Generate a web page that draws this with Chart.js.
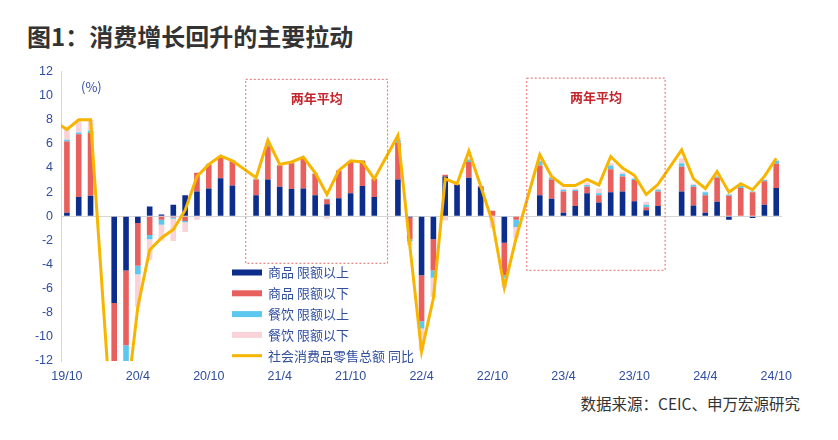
<!DOCTYPE html>
<html>
<head>
<meta charset="utf-8">
<script src="https://cdn.jsdelivr.net/npm/chart.js@4.4.1/dist/chart.umd.min.js"></script>
<style>
  body { margin: 0; width: 838px; height: 440px; background: #fff; position: relative; overflow: hidden;
         font-family: "Noto Sans CJK SC", "Noto Sans", sans-serif; }
  #title { position: absolute; left: 27px; top: 18px; font-size: 24px; font-weight: bold; color: #333; white-space: nowrap; }
  #source { position: absolute; right: 38px; top: 392px; font-size: 15.5px; color: #333; white-space: nowrap; }
  #wrap { position: absolute; left: 0; top: 56px; width: 800px; height: 332px; }
</style>
</head>
<body>
<div id="title">图1：消费增长回升的主要拉动</div>
<div id="wrap"><canvas id="myChart"></canvas></div>
<div id="source">数据来源：CEIC、申万宏源研究</div>
<script>
// months 19/9 .. 24/10 (19/9 only feeds the line entering from the left edge);
// January is merged into February (null)
const labels = ['19/9','19/10','19/11','19/12',
  '20/1','20/2','20/3','20/4','20/5','20/6','20/7','20/8','20/9','20/10','20/11','20/12',
  '21/1','21/2','21/3','21/4','21/5','21/6','21/7','21/8','21/9','21/10','21/11','21/12',
  '22/1','22/2','22/3','22/4','22/5','22/6','22/7','22/8','22/9','22/10','22/11','22/12',
  '23/1','23/2','23/3','23/4','23/5','23/6','23/7','23/8','23/9','23/10','23/11','23/12',
  '24/1','24/2','24/3','24/4','24/5','24/6','24/7','24/8','24/9','24/10'];
const firstShown = '19/10';

const goodsAbove = [null,0.3,1.6,1.7,
  null,-7.2,-4.5,-0.55,0.8,0.15,0.95,1.75,2.05,2.3,3.15,2.55,
  null,1.75,3.05,2.45,2.25,2.3,1.75,1.0,1.5,1.9,2.5,1.6,
  null,3.05,-0.1,-4.9,-1.9,3.3,2.6,3.2,2.4,-0.05,-2.2,0.0,
  null,1.75,1.45,0.3,0.85,1.9,1.15,2.0,2.05,1.25,0.5,0.85,
  null,2.05,0.9,0.3,1.2,-0.3,0.0,-0.15,0.95,2.35];
const goodsBelow = [null,5.9,5.2,5.2,
  null,-11.5,-6.2,-3.55,-1.55,-0.3,-0.1,-0.4,1.55,2.0,1.75,2.05,
  null,1.3,2.75,1.75,2.15,2.45,1.75,0.4,2.3,2.6,2.1,1.5,
  null,3.05,-1.8,-3.8,-2.6,0.15,0.05,1.3,0.1,0.45,-2.7,-0.3,
  null,2.45,1.6,1.75,1.25,0.55,0.6,1.9,1.25,1.75,0.25,1.2,
  null,2.05,1.55,1.45,2.0,1.7,2.35,2.0,1.95,2.0];
const cateringAbove = [null,0.15,0.15,0.2,
  null,-0.6,-1.3,-0.7,-0.35,-0.4,-0.1,-0.1,0.0,0.05,0.1,0.05,
  null,0.05,0.15,0.05,0.05,0.05,0.05,0.05,0.0,0.05,0.05,0.0,
  null,0.2,-0.2,-0.6,-0.6,0.0,0.0,0.2,0.0,0.0,-0.2,-0.6,
  null,0.35,0.15,0.15,0.1,0.15,0.15,0.3,0.2,0.1,0.2,0.15,
  null,0.3,0.15,0.25,0.1,0.1,0.15,0.05,0.1,0.25];
const cateringBelow = [null,0.85,1.05,0.9,
  null,-1.2,-3.8,-2.7,-1.7,-1.3,-1.85,-0.8,-0.3,-0.1,0.0,0.0,
  null,-0.05,0.1,0.05,0.05,0.05,0.05,-0.2,-0.05,0.0,-0.05,0.0,
  null,0.2,-0.3,-1.8,-1.6,-0.35,0.0,0.1,0.0,-0.9,-0.8,-0.9,
  null,0.15,0.1,0.1,0.1,0.2,0.4,0.2,0.15,0.1,0.25,0.1,
  null,0.4,0.1,0.05,0.1,0.05,0.05,0.05,0.05,0.05];
const retailTotal = [7.8,7.2,8.0,8.0,
  null,-20.5,-15.8,-7.5,-2.8,-1.8,-1.1,0.5,3.3,4.3,5.0,4.6,
  null,3.2,6.3,4.3,4.5,4.9,3.6,1.8,3.8,4.6,4.5,3.1,
  null,6.7,-2.4,-11.2,-6.8,3.1,2.7,5.4,2.5,-0.5,-5.9,-1.8,
  null,5.1,3.3,2.55,2.55,3.05,2.6,4.95,4.0,3.4,1.8,2.65,
  null,5.5,3.1,2.3,3.7,2.0,2.7,2.2,3.3,4.8];

// dotted "两年平均" boxes, in category index / value units
const boxFrom = [16.13, 39.9];
const boxTo = [28.13, 51.6];
const boxTop = [11.35, 11.45];
const boxBottom = [-3.9, -4.48];
const boxText = '两年平均';

const C = { navy: '#0d2d8c', red: '#e8605e', cyan: '#5cc8f0', pink: '#f9d3d7', gold: '#f7b500', tick: '#2f4e9e' };

const barDs = (label, data, color) => ({
  type: 'bar', label, data, backgroundColor: color, stack: 's', order: 1,
  barPercentage: 0.5, categoryPercentage: 0.95
});

const overlay = {
  id: 'overlay',
  afterDraw(chart) {
    const { ctx, chartArea, scales } = chart;
    const x = scales.x, y = scales.y;
    ctx.save();
    // boxes
    for (let i = 0; i < boxFrom.length; i++) {
      const l = x.getPixelForValue(boxFrom[i]), r = x.getPixelForValue(boxTo[i]);
      const t = y.getPixelForValue(boxTop[i]), b = y.getPixelForValue(boxBottom[i]);
      ctx.setLineDash([2, 2]);
      ctx.strokeStyle = '#e06a6a';
      ctx.lineWidth = 1;
      ctx.strokeRect(l, t, r - l, b - t);
      ctx.setLineDash([]);
      ctx.fillStyle = '#c4262e';
      ctx.font = 'bold 13px "Noto Sans CJK SC"';
      ctx.textAlign = 'center';
      ctx.textBaseline = 'middle';
      ctx.fillText(boxText, (l + r) / 2, t + 19);
    }
    // unit
    ctx.fillStyle = C.tick;
    ctx.font = '13px "Noto Sans CJK SC"';
    ctx.textAlign = 'left';
    ctx.textBaseline = 'middle';
    ctx.fillText('(%)', chartArea.left + 20, chartArea.top + 16);
    // legend inside the plot
    const lx = chartArea.left + 171, ly0 = chartArea.top + 201;
    chart.data.datasets.forEach((ds, i) => {
      const yy = ly0 + i * 20.8;
      ctx.fillStyle = ds.type === 'line' ? ds.borderColor : ds.backgroundColor;
      const h = ds.type === 'line' ? 3 : 6;
      ctx.fillRect(lx, yy - h / 2, 30, h);
      ctx.fillStyle = C.tick;
      ctx.font = '13px "Noto Sans CJK SC"';
      ctx.textAlign = 'left';
      ctx.textBaseline = 'middle';
      ctx.fillText(ds.label, lx + 36, yy);
    });
    ctx.restore();
  }
};

const config = {
  data: {
    labels: labels,
    datasets: [
      barDs('商品 限额以上', goodsAbove, C.navy),
      barDs('商品 限额以下', goodsBelow, C.red),
      barDs('餐饮 限额以上', cateringAbove, C.cyan),
      barDs('餐饮 限额以下', cateringBelow, C.pink),
      {
        type: 'line', label: '社会消费品零售总额 同比', data: retailTotal,
        borderColor: C.gold, backgroundColor: C.gold, borderWidth: 3,
        pointRadius: 0, tension: 0, spanGaps: true, order: 0, stack: 'line'
      }
    ]
  },
  options: {
    responsive: true,
    maintainAspectRatio: false,
    animation: false,
    layout: { padding: { top: 11, right: 17, left: 0, bottom: 0 } },
    plugins: { legend: { display: false }, tooltip: { enabled: false } },
    scales: {
      x: {
        stacked: true,
        min: firstShown,
        grid: { display: false, drawTicks: false },
        border: { display: false },
        ticks: {
          autoSkip: false, maxRotation: 0, padding: 8, color: C.tick,
          font: { family: 'Liberation Sans', size: 12.5 },
          callback: (v, i) => (i % 6 === 0 ? labels[v] : '')
        },
        afterFit: s => { s.height = 27; }
      },
      y: {
        stacked: true,
        min: -12, max: 12,
        grid: { drawTicks: false, color: c => (c.tick.value === 0 ? '#d6d6d6' : 'rgba(0,0,0,0)') },
        border: { display: true, color: '#d6d6d6' },
        ticks: { stepSize: 2, padding: 8, color: C.tick, font: { family: 'Liberation Sans', size: 12.5 } },
        afterFit: s => { s.width = 61; }
      }
    }
  },
  plugins: [overlay]
};

const ctx = document.getElementById('myChart').getContext('2d');
const myChart = new Chart(ctx, config);
</script>
</body>
</html>
